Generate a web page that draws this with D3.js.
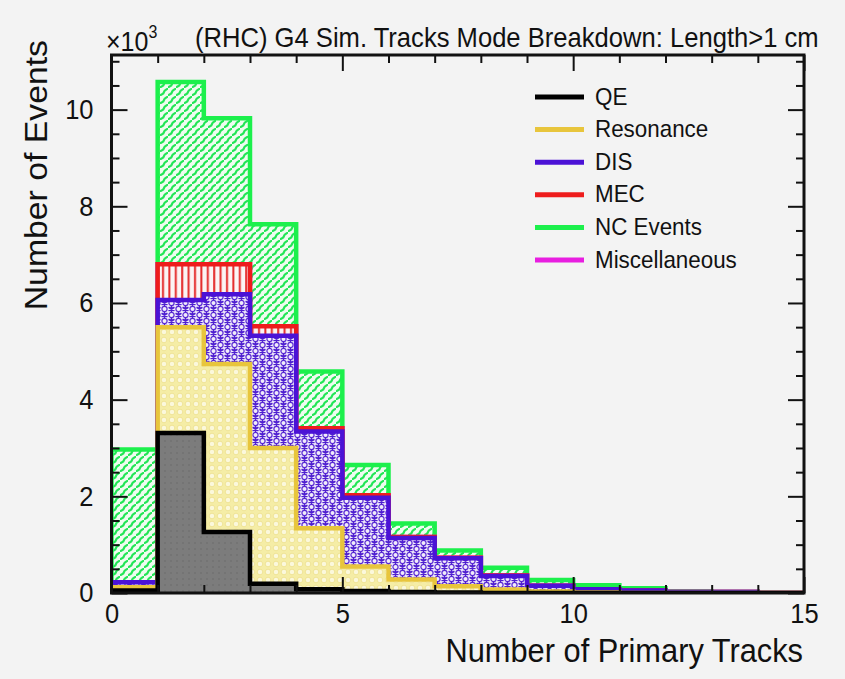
<!DOCTYPE html>
<html>
<head>
<meta charset="utf-8">
<script src="https://cdn.jsdelivr.net/npm/d3@7"></script>
<style>
  body { margin: 0; background: #f3f3f3; }
  svg { display: block; font-family: "Liberation Sans", Arial, sans-serif; }
</style>
</head>
<body>
<svg></svg>
<script>
var width = 845;
var height = 679;

// lower edge of each bin (number of primary tracks)
var binLow = [0, 1, 2, 3, 4, 5, 6, 7, 8, 9, 10, 11, 12, 13, 14];

// events per interaction mode, per bin
var qe        = [50, 3310, 1260, 190, 80, 40, 20, 10, 0, 0, 0, 0, 0, 0, 0];
var resonance = [70, 2190, 3480, 2810, 1260, 510, 260, 130, 70, 30, 10, 0, 0, 0, 0];
var dis       = [100, 560, 1440, 2320, 2000, 1420, 860, 580, 280, 120, 70, 50, 20, 20, 0];
var mec       = [0, 740, 620, 200, 70, 50, 20, 10, 10, 0, 0, 0, 0, 0, 0];
var misc      = [0, 0, 0, 0, 0, 0, 0, 0, 0, 0, 0, 0, 0, 0, 0];
var ncEvents  = [2750, 3770, 3020, 2110, 1170, 630, 280, 150, 160, 120, 80, 50, 10, 0, 0];

var yTicks = [0, 2000, 4000, 6000, 8000, 10000];
var xTicks = [0, 5, 10, 15];

var modes = [
  { name: "QE",            values: qe,        color: "#000000", fill: "url(#pQE)" },
  { name: "Resonance",     values: resonance, color: "#e8c53c", fill: "url(#pRes)" },
  { name: "DIS",           values: dis,       color: "#4b12d6", fill: "url(#pDIS)" },
  { name: "MEC",           values: mec,       color: "#ee1c1c", fill: "url(#pMEC)" },
  { name: "Miscellaneous", values: misc,      color: "#e81ee0", fill: "none" },
  { name: "NC Events",     values: ncEvents,  color: "#1cf04c", fill: "url(#pNC)" }
];
var legendOrder = ["QE", "Resonance", "DIS", "MEC", "NC Events", "Miscellaneous"];

// running sums, like a THStack
var running = binLow.map(() => 0);
modes.forEach(m => {
  running = running.map((v, i) => v + m.values[i]);
  m.cum = running.slice();
});

var plot = { left: 111.5, right: 804, top: 55, bottom: 593 };
var stretch = 1.09; // the picture is a little taller than wide

var x = d3.scaleLinear().domain([0, 15]).range([plot.left, plot.right]);
var y = d3.scaleLinear().domain([0, 11130]).range([plot.bottom, plot.top]);

var svg = d3.select("svg")
              .attr("width", width)
              .attr("height", height);

var defs = svg.append("defs");

defs.append("clipPath").attr("id", "clip")
  .append("rect")
    .attr("x", plot.left).attr("y", plot.top)
    .attr("width", plot.right - plot.left).attr("height", plot.bottom - plot.top);

// NC: green wavy hatch
var pNC = defs.append("pattern").attr("id", "pNC").attr("patternUnits", "userSpaceOnUse")
  .attr("width", 8).attr("height", 8);
pNC.append("rect").attr("width", 8).attr("height", 8).attr("fill", "#effcf0");
pNC.append("path").attr("d", "M-1,9 C0,6 3.5,7 4,4 C4.5,1 8,2 9,-1")
  .attr("fill", "none").attr("stroke", "#22e656").attr("stroke-width", 2.2);

// MEC: vertical red lines
var pMEC = defs.append("pattern").attr("id", "pMEC").attr("patternUnits", "userSpaceOnUse")
  .attr("width", 6.4).attr("height", 6);
pMEC.append("rect").attr("width", 6.4).attr("height", 6).attr("fill", "#fbf4f4");
pMEC.append("rect").attr("x", 2).attr("width", 2).attr("height", 6).attr("fill", "#e42a2a");

// DIS: circles and asterisks
var pDIS = defs.append("pattern").attr("id", "pDIS").attr("patternUnits", "userSpaceOnUse")
  .attr("width", 14).attr("height", 12);
pDIS.append("rect").attr("width", 14).attr("height", 12).attr("fill", "#f1ecfb");
function star(g, cx, cy) {
  var r = 3.4;
  var d = "";
  [0, 60, 120].forEach(a => {
    var rad = (a + 90) * Math.PI / 180;
    d += "M" + (cx - r * Math.cos(rad)) + "," + (cy - r * Math.sin(rad)) +
         "L" + (cx + r * Math.cos(rad)) + "," + (cy + r * Math.sin(rad));
  });
  g.append("path").attr("d", d).attr("stroke", "#4f1fd0").attr("stroke-width", 1.6);
}
pDIS.append("circle").attr("cx", 3.5).attr("cy", 3).attr("r", 2.6)
  .attr("fill", "none").attr("stroke", "#5a2ad4").attr("stroke-width", 1.2);
star(pDIS, 10.5, 3);
star(pDIS, 3.5, 9);
pDIS.append("circle").attr("cx", 10.5).attr("cy", 9).attr("r", 2.6)
  .attr("fill", "none").attr("stroke", "#5a2ad4").attr("stroke-width", 1.2);

// Resonance: pale yellow with small circles
var pRes = defs.append("pattern").attr("id", "pRes").attr("patternUnits", "userSpaceOnUse")
  .attr("width", 8).attr("height", 8);
pRes.append("rect").attr("width", 8).attr("height", 8).attr("fill", "#f5eda6");
pRes.append("circle").attr("cx", 4).attr("cy", 4).attr("r", 2.8)
  .attr("fill", "#fbf8dc").attr("stroke", "#ede08a").attr("stroke-width", 0.8);

// QE: grey with faint dots
var pQE = defs.append("pattern").attr("id", "pQE").attr("patternUnits", "userSpaceOnUse")
  .attr("width", 6).attr("height", 6);
pQE.append("rect").attr("width", 6).attr("height", 6).attr("fill", "#7c7c7c");
pQE.append("circle").attr("cx", 3).attr("cy", 3).attr("r", 0.8).attr("fill", "#6a6a6a");

// step shapes
function stepPoints(cum) {
  var pts = binLow.map((b, i) => [b, cum[i]]);
  pts.push([binLow[binLow.length - 1] + 1, cum[cum.length - 1]]);
  return pts;
}
var area = d3.area()
  .curve(d3.curveStepAfter)
  .x(d => x(d[0]))
  .y0(y(0))
  .y1(d => y(d[1]));
var outline = d3.line()
  .curve(d3.curveStepAfter)
  .x(d => x(d[0]))
  .y(d => y(d[1]));

var layers = svg.append("g").attr("clip-path", "url(#clip)");

modes.slice().reverse().forEach(m => {
  var pts = stepPoints(m.cum);
  if (m.fill !== "none") {
    layers.append("path").attr("d", area(pts)).attr("fill", m.fill);
  }
  var full = [[0, 0]].concat(pts);
  full.push([15, 0]);
  layers.append("path")
    .attr("d", outline(full))
    .attr("fill", "none")
    .attr("stroke", m.color)
    .attr("stroke-width", 4.5)
    .attr("stroke-linejoin", "miter");
});

// axes, ROOT style ticks pointing inward
var fontTick = 25.5;
var minorY = d3.range(0, 11001, 500).filter(v => v % 2000);
var minorX = d3.range(1, 15).filter(v => v % 5);

var yAxis = svg.append("g").attr("transform", "translate(" + plot.left + ",0)")
  .call(d3.axisLeft(y).tickValues(yTicks).tickSize(-16).tickPadding(18)
          .tickFormat(d => d / 1000));
svg.append("g").attr("transform", "translate(" + plot.left + ",0)")
  .call(d3.axisLeft(y).tickValues(minorY).tickSize(-8).tickFormat(""));
svg.append("g").attr("transform", "translate(" + plot.right + ",0)")
  .call(d3.axisRight(y).tickValues(yTicks).tickSize(-16).tickFormat(""));
svg.append("g").attr("transform", "translate(" + plot.right + ",0)")
  .call(d3.axisRight(y).tickValues(minorY).tickSize(-8).tickFormat(""));

var xAxis = svg.append("g").attr("transform", "translate(0," + plot.bottom + ")")
  .call(d3.axisBottom(x).tickValues(xTicks).tickSize(-16).tickPadding(9).tickFormat(d3.format("d")));
svg.append("g").attr("transform", "translate(0," + plot.bottom + ")")
  .call(d3.axisBottom(x).tickValues(minorX).tickSize(-8).tickFormat(""));
svg.append("g").attr("transform", "translate(0," + plot.top + ")")
  .call(d3.axisTop(x).tickValues(xTicks).tickSize(-16).tickFormat(""));
svg.append("g").attr("transform", "translate(0," + plot.top + ")")
  .call(d3.axisTop(x).tickValues(minorX).tickSize(-8).tickFormat(""));

svg.selectAll(".domain").remove();
svg.selectAll(".tick line").attr("stroke", "#111").attr("stroke-width", 2);
svg.selectAll(".tick text")
  .attr("font-family", "Liberation Sans, Arial, sans-serif")
  .attr("font-size", fontTick)
  .attr("fill", "#111");
yAxis.selectAll(".tick text").attr("transform", "scale(1," + stretch + ")");
xAxis.selectAll(".tick text").attr("dy", "0.72em").attr("transform", "scale(1," + stretch + ")");

// frame
svg.append("rect")
  .attr("x", plot.left).attr("y", plot.top)
  .attr("width", plot.right - plot.left).attr("height", plot.bottom - plot.top)
  .attr("fill", "none").attr("stroke", "#111").attr("stroke-width", 3);

// texts
function label(tx, ty, size, str, anchor) {
  return svg.append("text")
    .attr("transform", "translate(" + tx + "," + ty + ") scale(1," + stretch + ")")
    .attr("text-anchor", anchor || "start")
    .attr("font-size", size).attr("fill", "#111")
    .text(str);
}

label(195, 47, 25.6, "(RHC) G4 Sim. Tracks Mode Breakdown: Length>1 cm");

var exp = label(106, 51, 25, "\u00d710");
exp.append("tspan").attr("font-size", 16).attr("dy", -12).text("3");

label(803, 662, 30.8, "Number of Primary Tracks", "end");

svg.append("text")
  .attr("transform", "translate(47,40) scale(1," + stretch + ") rotate(-90)")
  .attr("text-anchor", "end")
  .attr("font-size", 31).attr("fill", "#111")
  .text("Number of Events");

// legend
var legendY = d3.scalePoint().domain(legendOrder).range([97, 260]);
var legend = svg.append("g");
legendOrder.forEach(name => {
  var m = modes.find(d => d.name === name);
  var ly = legendY(name);
  legend.append("line")
    .attr("x1", 535).attr("x2", 584)
    .attr("y1", ly).attr("y2", ly)
    .attr("stroke", m.color).attr("stroke-width", 5);
  legend.append("text")
    .attr("transform", "translate(595," + (ly + 7.5) + ") scale(1," + stretch + ")")
    .attr("font-size", 22.4).attr("fill", "#111")
    .text(name);
});
</script>
</body>
</html>
